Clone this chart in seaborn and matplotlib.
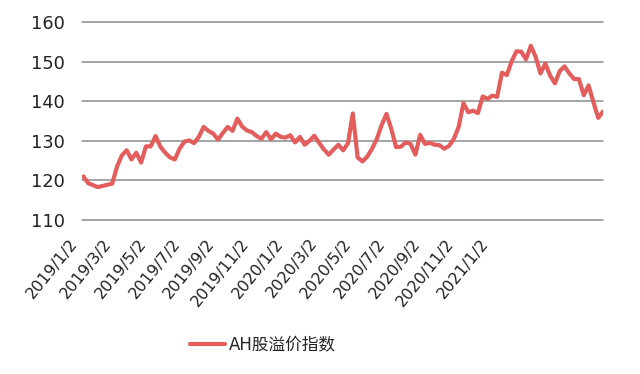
import matplotlib
matplotlib.use("Agg")
import matplotlib.pyplot as plt
import matplotlib.transforms as mtransforms
import seaborn as sns
import pandas as pd
import numpy as np

# ---- data (weekly readings, 2019-01-04 .. 2021-01-29) ----
start_date = "2019-01-04"
end_date = "2021-01-29"
ah_premium = [
    121.0, 119.3, 118.8, 118.3, 118.6, 118.9, 119.2, 123.5, 126.3, 127.6,
    125.3, 127.0, 124.5, 128.6, 128.6, 131.2, 128.5, 127.0, 125.8, 125.3,
    128.0, 129.8, 130.1, 129.4, 131.0, 133.5, 132.5, 131.8, 130.3, 132.0,
    133.5, 132.5, 135.6, 133.6, 132.6, 132.2, 131.2, 130.5, 132.2, 130.4,
    131.8, 131.0, 130.8, 131.4, 129.6, 131.0, 129.0, 130.0, 131.3, 129.5,
    127.8, 126.5, 127.8, 129.0, 127.6, 129.4, 136.9, 125.8, 124.8, 126.0,
    128.0, 130.5, 134.0, 136.8, 133.0, 128.4, 128.5, 129.6, 129.2, 126.5,
    131.5, 129.2, 129.5, 129.0, 128.9, 128.0, 128.7, 130.5, 133.5, 139.5,
    137.2, 137.6, 137.0, 141.2, 140.6, 141.4, 141.1, 147.2, 146.6, 150.0,
    152.6, 152.5, 150.6, 154.0, 151.2, 147.0, 149.5, 146.5, 144.5, 147.6,
    148.8, 147.0, 145.6, 145.6, 141.5, 144.0, 139.8, 135.8, 137.4,
]
tick_labels = [
    "2019/1/2", "2019/3/2", "2019/5/2", "2019/7/2", "2019/9/2", "2019/11/2",
    "2020/1/2", "2020/3/2", "2020/5/2", "2020/7/2", "2020/9/2", "2020/11/2",
    "2021/1/2",
]
y_ticks = [110, 120, 130, 140, 150, 160]
series_name = "AH股溢价指数"

dates = pd.date_range(start_date, end_date, freq="W-FRI")
df = pd.DataFrame({"date": dates, "value": ah_premium})

sns.set_theme(style="white")
plt.rcParams["font.family"] = ["DejaVu Sans", "Noto Sans CJK SC"]
plt.rcParams["xtick.major.size"] = 0
plt.rcParams["ytick.major.size"] = 0
plt.rcParams["xtick.major.pad"] = 2

fig = plt.figure(figsize=(6.4, 3.74), dpi=100)
ax = fig.add_axes([82 / 640, 1 - 220 / 374, (603 - 82) / 640, (220 - 22) / 374])

sns.lineplot(data=df, x="date", y="value", ax=ax, color="#E35D5D",
             linewidth=3.0, label=series_name)

xmin = pd.Timestamp("2019-01-02")
xmax = pd.Timestamp(end_date)
ax.set_xlim(xmin, xmax)
ax.set_ylim(110, 160)
ax.set_yticks(y_ticks)
ax.set_yticklabels([])

# y labels placed explicitly 17 px left of the plot area
ylab_tr = ax.get_yaxis_transform() + mtransforms.ScaledTranslation(-17 / 100, 0, fig.dpi_scale_trans)
for v in y_ticks:
    ax.text(0, v, str(v), transform=ylab_tr, ha="right", va="center_baseline",
            fontsize=12.8, color="#222222", clip_on=False)

# evenly spaced category-style labels as in the reference
span = (xmax - xmin)
frac = 34.25 / 521
tick_pos = [xmin + span * (frac * k) for k in range(len(tick_labels))]
ax.set_xticks(tick_pos)
ax.set_xticklabels(tick_labels, rotation=51, ha="right", rotation_mode="anchor",
                   fontsize=11.5, color="#222222")

ax.set_xlabel("")
ax.set_ylabel("")
for s in ax.spines.values():
    s.set_visible(False)
ax.yaxis.grid(True, color="#8c8c8c", linewidth=1.1)
ax.xaxis.grid(False)
for gl in ax.get_ygridlines():
    gl.set_clip_on(False)

offset = mtransforms.ScaledTranslation(-13 / 100, -13 / 100, fig.dpi_scale_trans)
for lbl in ax.get_xticklabels():
    lbl.set_transform(lbl.get_transform() + offset)

leg = ax.legend(loc="center", bbox_to_anchor=(263 / 640, 1 - 345 / 374),
                bbox_transform=fig.transFigure, frameon=False, fontsize=12,
                handlelength=2.1, handletextpad=0.2)
for t in leg.get_texts():
    t.set_color("#222222")

fig.savefig("out.png", dpi=100)
